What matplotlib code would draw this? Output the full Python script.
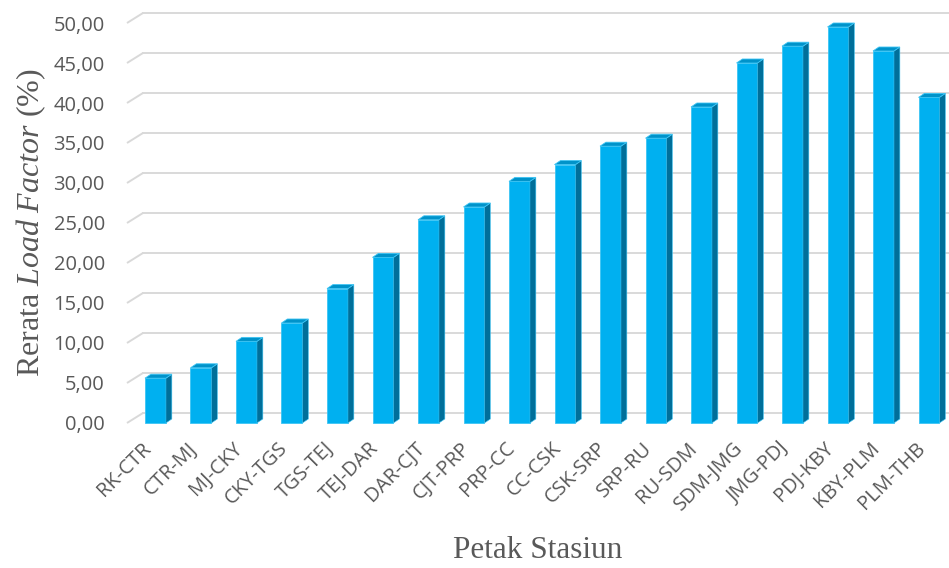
import matplotlib
matplotlib.use("Agg")
import matplotlib.pyplot as plt
from matplotlib.patches import Polygon

# data
categories = ["RK-CTR", "CTR-MJ", "MJ-CKY", "CKY-TGS", "TGS-TEJ", "TEJ-DAR",
              "DAR-CJT", "CJT-PRP", "PRP-CC", "CC-CSK", "CSK-SRP", "SRP-RU",
              "RU-SDM", "SDM-JMG", "JMG-PDJ", "PDJ-KBY", "KBY-PLM", "PLM-THB"]
load_factor = [5.6, 6.9, 10.2, 12.5, 16.8, 20.7, 25.4, 27.0, 30.2, 32.3,
               34.6, 35.6, 39.5, 45.0, 47.1, 49.5, 46.5, 40.7]
y_ticks = [0, 5, 10, 15, 20, 25, 30, 35, 40, 45, 50]
y_tick_labels = ["0,00", "5,00", "10,00", "15,00", "20,00", "25,00",
                 "30,00", "35,00", "40,00", "45,00", "50,00"]

plt.rcParams['mathtext.fontset'] = 'custom'
plt.rcParams['mathtext.it'] = 'Liberation Serif:italic'
plt.rcParams['mathtext.rm'] = 'Liberation Serif'

text_grey = '#595959'
front_col = '#00B0F0'
side_col = '#006F9A'
top_col = '#0093CA'
grid_col = '#D9D9D9'

fig = plt.figure(figsize=(9.49, 5.68), dpi=100)
ax = fig.add_axes([0.1338, 0.2553, 0.8662, 0.7042])

x_left, x_right = -0.626, 17.44
ax.set_xlim(x_left, x_right)
ax.set_ylim(0, 50)

# back wall offset (3-D look)
wall_dx, wall_dy = 0.352, 1.25
for v in y_ticks:
    ax.plot([x_left, x_left + wall_dx], [v, v + wall_dy], color=grid_col,
            lw=1.4, zorder=1, clip_on=False, solid_capstyle='butt')
    ax.plot([x_left + wall_dx, x_right], [v + wall_dy, v + wall_dy],
            color=grid_col, lw=1.4, zorder=1, clip_on=False)

# bars: front face + side and top faces
w = 0.46
bar_dx, bar_dy = 0.13, 0.5
xs = list(range(len(categories)))
ax.bar(xs, load_factor, width=w, color=front_col, zorder=3,
       edgecolor='#3CC4F4', linewidth=0.6, clip_on=False)
for x, v in zip(xs, load_factor):
    x0, x1 = x - w / 2, x + w / 2
    side = Polygon([(x1, 0), (x1 + bar_dx, bar_dy), (x1 + bar_dx, v + bar_dy), (x1, v)],
                   closed=True, facecolor=side_col, edgecolor='#3CC4F4',
                   linewidth=0.4, zorder=3, clip_on=False)
    top = Polygon([(x0, v), (x1, v), (x1 + bar_dx, v + bar_dy), (x0 + bar_dx, v + bar_dy)],
                  closed=True, facecolor=top_col, edgecolor='#3CC4F4',
                  linewidth=0.6, zorder=3, clip_on=False)
    ax.add_patch(side)
    ax.add_patch(top)

for s in ax.spines.values():
    s.set_visible(False)

ax.set_yticks(y_ticks)
ax.set_yticklabels(y_tick_labels, fontsize=14.5, color=text_grey, family='Open Sans')
ax.tick_params(axis='y', length=0, pad=16)

ax.set_xticks(xs)
ax.set_xticklabels(categories, rotation=45, ha='right', va='top',
                   fontsize=14.5, color=text_grey, family='Open Sans')
ax.tick_params(axis='x', length=0, pad=11)

ax.set_xlabel('Petak Stasiun', fontsize=22.5, color=text_grey,
              family='Liberation Serif', labelpad=15)
ax.set_ylabel('Rerata $\\mathit{Load\\ Factor}$ (%)', fontsize=23,
              color=text_grey, family='Liberation Serif', labelpad=4)

fig.savefig('out.png', dpi=100)
